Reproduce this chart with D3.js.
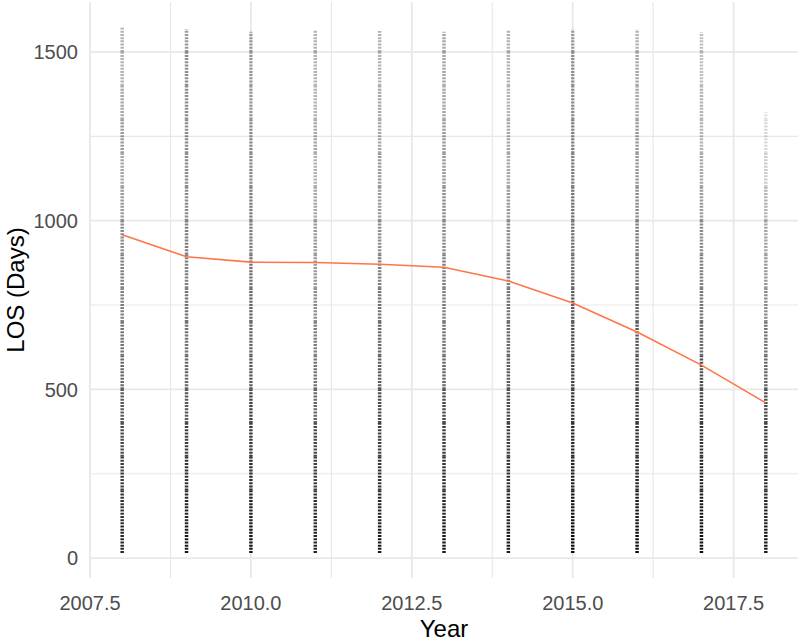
<!DOCTYPE html>
<html>
<head>
<meta charset="utf-8">
<script src="https://cdn.jsdelivr.net/npm/d3@7"></script>
<style>
  body { margin: 0; background: #fff; }
</style>
</head>
<body>
<div id="container"></div>
<script>
// years on the x axis
const years = [2008, 2009, 2010, 2011, 2012, 2013, 2014, 2015, 2016, 2017, 2018];

// smoothed LOS (orange line) read at each year
const smoothLos = [958, 893, 877, 876, 871, 862, 821, 756, 670, 572, 460];

// highest LOS seen in each year's column
const maxLos = [1572, 1568, 1560, 1565, 1562, 1560, 1565, 1567, 1567, 1558, 1322];
const minLos = 15;

// point density per 100-day band (0-100, 100-200, ... 1500-1600), read as darkness
const bandSize = 100;
const density = [
  [0.85, 0.8, 0.75, 0.7, 0.65, 0.6, 0.55, 0.5, 0.5, 0.45, 0.4, 0.35, 0.4, 0.35, 0.3, 0.3],
  [0.9, 0.85, 0.8, 0.75, 0.65, 0.6, 0.55, 0.55, 0.5, 0.5, 0.45, 0.45, 0.45, 0.45, 0.45, 0.4],
  [0.9, 0.85, 0.8, 0.75, 0.7, 0.6, 0.55, 0.55, 0.5, 0.45, 0.45, 0.4, 0.4, 0.35, 0.35, 0.35],
  [0.85, 0.8, 0.75, 0.7, 0.6, 0.55, 0.5, 0.45, 0.4, 0.4, 0.35, 0.3, 0.35, 0.3, 0.3, 0.3],
  [0.9, 0.85, 0.8, 0.75, 0.7, 0.65, 0.6, 0.55, 0.5, 0.45, 0.4, 0.4, 0.35, 0.35, 0.3, 0.3],
  [0.9, 0.85, 0.8, 0.75, 0.7, 0.6, 0.55, 0.5, 0.5, 0.45, 0.45, 0.4, 0.4, 0.35, 0.35, 0.35],
  [0.9, 0.85, 0.8, 0.75, 0.7, 0.65, 0.6, 0.55, 0.5, 0.45, 0.4, 0.35, 0.35, 0.3, 0.3, 0.3],
  [0.95, 0.9, 0.85, 0.8, 0.75, 0.7, 0.65, 0.6, 0.55, 0.5, 0.5, 0.45, 0.45, 0.4, 0.4, 0.35],
  [0.95, 0.9, 0.85, 0.8, 0.75, 0.7, 0.65, 0.6, 0.55, 0.5, 0.45, 0.4, 0.4, 0.35, 0.35, 0.3],
  [0.95, 0.9, 0.85, 0.8, 0.75, 0.7, 0.6, 0.55, 0.5, 0.45, 0.4, 0.35, 0.3, 0.3, 0.25, 0.25],
  [0.9, 0.85, 0.8, 0.75, 0.7, 0.6, 0.55, 0.45, 0.4, 0.35, 0.3, 0.2, 0.15, 0.1, 0, 0]
];

const xMajor = [2007.5, 2010.0, 2012.5, 2015.0, 2017.5];
const xMinor = [2008.75, 2011.25, 2013.75, 2016.25];
const yMajor = [0, 500, 1000, 1500];
const yMinor = [250, 750, 1250];

const WIDTH = 800;
const HEIGHT = 644;

const x = d3.scaleLinear().domain([2007.5, 2018.5]).range([90, 798]);
const y = d3.scaleLinear().domain([-59, 1648]).range([578, 2]);

const svg = d3.select('#container').append('svg')
  .attr('width', WIDTH).attr('height', HEIGHT)
  .attr('font-family', 'Liberation Sans, Arial, sans-serif');

// grid
const grid = svg.append('g').attr('stroke', '#e8e8e8');
grid.selectAll('.vmin').data(xMinor).join('line')
  .attr('x1', d => x(d)).attr('x2', d => x(d)).attr('y1', 2).attr('y2', 578)
  .attr('stroke-width', 1.2);
grid.selectAll('.hmin').data(yMinor).join('line')
  .attr('y1', d => y(d)).attr('y2', d => y(d)).attr('x1', 90).attr('x2', 798)
  .attr('stroke-width', 1.2);
grid.selectAll('.vmaj').data(xMajor).join('line')
  .attr('x1', d => x(d)).attr('x2', d => x(d)).attr('y1', 2).attr('y2', 578)
  .attr('stroke-width', 1.8);
grid.selectAll('.hmaj').data(yMajor).join('line')
  .attr('y1', d => y(d)).attr('y2', d => y(d)).attr('x1', 90).attr('x2', 798)
  .attr('stroke-width', 1.8);

// point columns, one dotted segment per density band
const bands = [];
years.forEach((yr, i) => {
  density[i].forEach((o, b) => {
    const lo = Math.max(b * bandSize, minLos);
    const hi = Math.min((b + 1) * bandSize, maxLos[i]);
    if (hi > lo && o > 0) bands.push({ year: yr, lo: lo, hi: hi, o: o });
  });
});

svg.append('g').selectAll('line').data(bands).join('line')
  .attr('x1', d => x(d.year)).attr('x2', d => x(d.year))
  .attr('y1', d => y(d.lo)).attr('y2', d => y(d.hi))
  .attr('stroke', '#000')
  .attr('stroke-width', 3.5)
  .attr('stroke-dasharray', '2,1.2')
  .attr('stroke-opacity', d => d.o);

// smooth line
const line = d3.line().x((d, i) => x(years[i])).y(d => y(d));
svg.append('path').datum(smoothLos)
  .attr('d', line)
  .attr('fill', 'none')
  .attr('stroke', '#ff7548')
  .attr('stroke-width', 1.6);

// tick labels
svg.append('g').selectAll('text').data(yMajor).join('text')
  .attr('x', 78).attr('y', d => y(d)).attr('dy', '0.36em')
  .attr('text-anchor', 'end').attr('font-size', 20).attr('fill', '#4d4d4d')
  .text(d => d);

svg.append('g').selectAll('text').data(xMajor).join('text')
  .attr('x', d => x(d)).attr('y', 610)
  .attr('text-anchor', 'middle').attr('font-size', 20).attr('fill', '#4d4d4d')
  .text(d => d3.format('.1f')(d));

// axis titles
svg.append('text')
  .attr('x', (90 + 798) / 2).attr('y', 637)
  .attr('text-anchor', 'middle').attr('font-size', 24).attr('fill', '#000')
  .text('Year');

svg.append('text')
  .attr('transform', `translate(24,290) rotate(-90)`)
  .attr('text-anchor', 'middle').attr('font-size', 24).attr('fill', '#000')
  .text('LOS (Days)');
</script>
</body>
</html>
